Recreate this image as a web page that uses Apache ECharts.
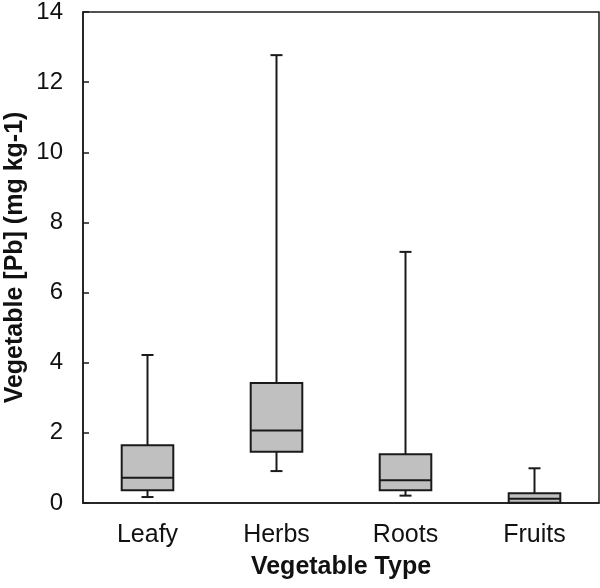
<!DOCTYPE html>
<html>
<head>
<meta charset="utf-8">
<script src="https://cdn.jsdelivr.net/npm/echarts@6/dist/echarts.min.js"></script>
<style>html,body{margin:0;padding:0;background:#fff}#c{width:600px;height:588px}</style>
</head>
<body>
<div id="c"></div>
<script>
const categories = ['Leafy', 'Herbs', 'Roots', 'Fruits'];
const whiskerMin = [0.17, 0.91, 0.21, 0.00];
const q1Values   = [0.36, 1.46, 0.36, 0.01];
const medians    = [0.72, 2.07, 0.65, 0.12];
const q3Values   = [1.65, 3.42, 1.39, 0.28];
const whiskerMax = [4.22, 12.77, 7.16, 0.99];
const yTicks = [0, 2, 4, 6, 8, 10, 12, 14];

const data = categories.map((c, i) => [i, whiskerMin[i], q1Values[i], medians[i], q3Values[i], whiskerMax[i]]);

const chart = echarts.init(document.getElementById('c'), null, {renderer: 'canvas'});
const stroke = '#1a1a1a';
const textColor = '#111';
const font = '"Liberation Sans", Arial, sans-serif';

function renderItem(params, api) {
  const idx = api.value(0);
  const band = api.size([1, 0])[0];
  const bw = band * 0.4;
  const cap = 12;
  const pMin = api.coord([idx, api.value(1)]);
  const pQ1 = api.coord([idx, api.value(2)]);
  const pMed = api.coord([idx, api.value(3)]);
  const pQ3 = api.coord([idx, api.value(4)]);
  const pMax = api.coord([idx, api.value(5)]);
  const x = pMed[0];
  const ls = {stroke: stroke, lineWidth: 2};
  return {
    type: 'group',
    children: [
      {type: 'line', shape: {x1: x, y1: pQ3[1], x2: x, y2: pMax[1]}, style: ls},
      {type: 'line', shape: {x1: x - cap / 2, y1: pMax[1], x2: x + cap / 2, y2: pMax[1]}, style: ls},
      {type: 'line', shape: {x1: x, y1: pQ1[1], x2: x, y2: pMin[1]}, style: ls},
      {type: 'line', shape: {x1: x - cap / 2, y1: pMin[1], x2: x + cap / 2, y2: pMin[1]}, style: ls},
      {type: 'rect', shape: {x: x - bw / 2, y: pQ3[1], width: bw, height: pQ1[1] - pQ3[1]},
        style: {fill: '#c0c0c0', stroke: stroke, lineWidth: 2}},
      {type: 'line', shape: {x1: x - bw / 2, y1: pMed[1], x2: x + bw / 2, y2: pMed[1]}, style: ls}
    ]
  };
}

chart.setOption({
  animation: false,
  backgroundColor: '#fff',
  grid: {left: 83, right: 1, top: 12, bottom: 85, containLabel: false, outerBoundsMode: 'none',
    show: true, borderColor: stroke, borderWidth: 1.5, backgroundColor: 'transparent'},
  xAxis: {
    type: 'category',
    data: categories,
    boundaryGap: true,
    name: 'Vegetable Type',
    nameLocation: 'middle',
    nameGap: 52,
    nameTextStyle: {fontFamily: font, fontSize: 25, fontWeight: 'bold', color: textColor},
    axisLine: {show: true, lineStyle: {color: stroke, width: 1.5}},
    axisTick: {show: false},
    axisLabel: {fontFamily: font, fontSize: 25, color: textColor, margin: 20},
    splitLine: {show: false}
  },
  yAxis: {
    type: 'value',
    min: 0,
    max: 14,
    interval: 2,
    name: 'Vegetable [Pb] (mg kg-1)',
    nameLocation: 'middle',
    nameGap: 55,
    nameMoveOverlap: false,
    nameTextStyle: {fontFamily: font, fontSize: 25, fontWeight: 'bold', color: textColor},
    axisLine: {show: true, lineStyle: {color: stroke, width: 1.5}},
    axisTick: {show: true, inside: true, length: 6, lineStyle: {color: stroke, width: 1.5}},
    axisLabel: {fontFamily: font, fontSize: 24, color: textColor, margin: 20,
      formatter: v => yTicks.includes(v) ? String(v) : ''},
    splitLine: {show: false}
  },
  series: [{
    type: 'custom',
    renderItem: renderItem,
    encode: {x: 0, y: [1, 2, 3, 4, 5]},
    data: data
  }]
});
</script>
</body>
</html>
